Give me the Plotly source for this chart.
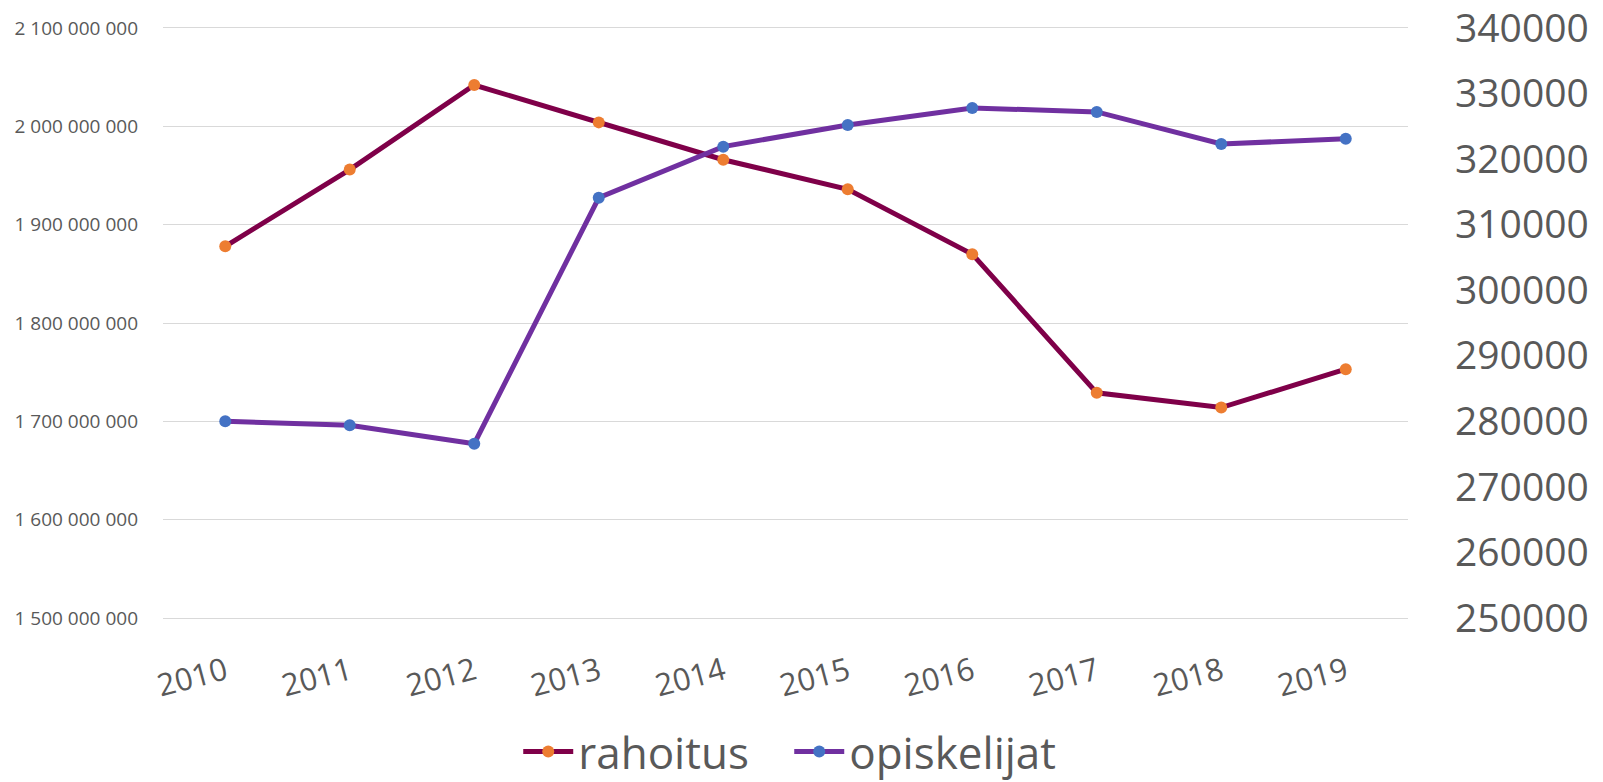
import plotly.graph_objects as go

years = ["2010", "2011", "2012", "2013", "2014", "2015", "2016", "2017", "2018", "2019"]
rahoitus = [1878e6, 1956e6, 2042e6, 2004e6, 1966e6, 1936e6, 1870e6, 1729e6, 1714e6, 1753e6]
opiskelijat = [280000, 279400, 276600, 314100, 321900, 325200, 327800, 327200, 322300, 323100]

left_tickvals = [1.5e9, 1.6e9, 1.7e9, 1.8e9, 1.9e9, 2.0e9, 2.1e9]
left_ticktext = ["1 500 000 000", "1 600 000 000", "1 700 000 000", "1 800 000 000",
                 "1 900 000 000", "2 000 000 000", "2 100 000 000"]
right_tickvals = [250000, 260000, 270000, 280000, 290000, 300000, 310000, 320000, 330000, 340000]
right_ticktext = ["250000", "260000", "270000", "280000", "290000", "300000",
                  "310000", "320000", "330000", "340000"]

FONT = "Open Sans"
GREY = "#595959"

fig = go.Figure()
fig.add_trace(go.Scatter(
    x=years, y=rahoitus, name="rahoitus", mode="lines+markers",
    line=dict(color="#7F0049", width=5),
    marker=dict(color="#ED7D31", size=12),
    yaxis="y",
))
fig.add_trace(go.Scatter(
    x=years, y=opiskelijat, name="opiskelijat", mode="lines+markers",
    line=dict(color="#7030A0", width=5),
    marker=dict(color="#4472C4", size=12),
    yaxis="y2",
))

fig.update_layout(
    width=1603, height=782,
    margin=dict(l=163, r=195, t=26, b=162, autoexpand=False),
    paper_bgcolor="white", plot_bgcolor="white",
    font=dict(family=FONT, color=GREY),
    showlegend=True,
    legend=dict(
        orientation="h", x=0.503, xanchor="center", y=-0.222, yanchor="middle",
        font=dict(size=44, color=GREY, family=FONT),
        itemwidth=50, entrywidth=206,
    ),
    xaxis=dict(
        type="category", range=[-0.5, 9.5],
        showgrid=False, showline=False, zeroline=False, ticks="",
        tickangle=-15, tickfont=dict(size=31, color=GREY),
        ticklabelstandoff=27,
    ),
    yaxis=dict(
        range=[1.498e9, 2.102e9], tickvals=left_tickvals, ticktext=left_ticktext,
        showgrid=True, gridcolor="#D9D9D9", gridwidth=1.3, zeroline=False,
        showline=False, ticks="", tickfont=dict(size=19, color=GREY),
        ticklabelstandoff=24, ticklabeloverflow="allow",
    ),
    yaxis2=dict(
        range=[249700, 340300], tickvals=right_tickvals, ticktext=right_ticktext,
        overlaying="y", side="right", showgrid=False, zeroline=False,
        showline=False, ticks="", tickfont=dict(size=39, color=GREY),
        ticklabelstandoff=46, ticklabeloverflow="allow",
    ),
)

# remove the default 8px page margin so the figure fills the window exactly
fig.write_html(
    "out.html",
    config={"displayModeBar": False},
    post_script="document.body.style.margin='0';",
)
